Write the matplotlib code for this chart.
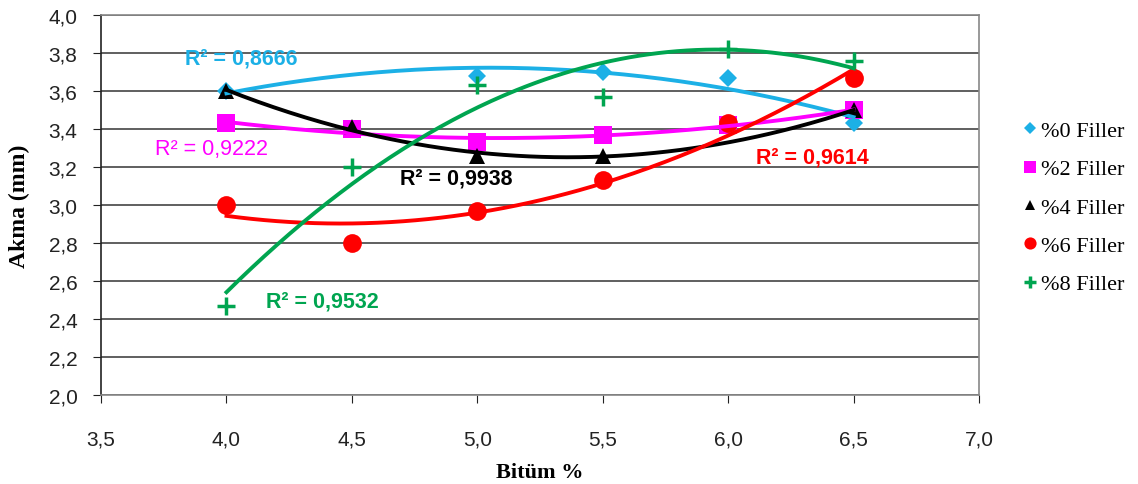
import numpy as np
import matplotlib.pyplot as plt
from matplotlib.ticker import FuncFormatter, MultipleLocator

# Bitum orani (%) ve akma degerleri (mm)
bitum = [4.0, 4.5, 5.0, 5.5, 6.0, 6.5]
bitum_f0 = [4.0, 5.0, 5.5, 6.0, 6.5]
akma_f0 = [3.60, 3.68, 3.70, 3.67, 3.43]
akma_f2 = [3.43, 3.40, 3.33, 3.37, 3.42, 3.50]
bitum_f4 = [4.0, 4.5, 5.0, 5.5, 6.5]
akma_f4 = [3.60, 3.41, 3.26, 3.26, 3.50]
akma_f6 = [3.00, 2.80, 2.97, 3.13, 3.43, 3.67]
akma_f8 = [2.47, 3.20, 3.63, 3.57, 3.82, 3.76]

etiketler = ["%0 Filler", "%2 Filler", "%4 Filler", "%6 Filler", "%8 Filler"]
r2_yazi = ["R² = 0,8666", "R² = 0,9222", "R² = 0,9938", "R² = 0,9614", "R² = 0,9532"]
r2_konum = [(3.834, 3.774), (3.715, 3.295), (4.692, 3.142), (6.112, 3.253), (4.158, 2.495)]

renkler = ["#1CB0E6", "#FF00FF", "#000000", "#FF0000", "#00A550"]
isaretler = ["D", "s", "^", "o", "+"]
boyut = [9, 13, 11, 13.5, 13]
kalin = ["bold", "normal", "bold", "bold", "bold"]

seriler = [(bitum_f0, akma_f0), (bitum, akma_f2), (bitum_f4, akma_f4),
           (bitum, akma_f6), (bitum, akma_f8)]

fig = plt.figure(figsize=(11.38, 4.85), dpi=100)
ax = fig.add_axes([0.0888, 0.1835, 0.7715, 0.7835])

for i, (x, y) in enumerate(seriler):
    ax.plot(x, y, linestyle="none", marker=isaretler[i], color=renkler[i],
            markersize=boyut[i], markeredgewidth=2.5 if isaretler[i] == "+" else 0,
            label=etiketler[i], zorder=3)

# 2. derece polinom egilim cizgileri
for i, (x, y) in enumerate(seriler):
    k = np.polyfit(x, y, 2)
    xx = np.linspace(min(x), max(x), 200)
    ax.plot(xx, np.polyval(k, xx), color=renkler[i], lw=2.8, zorder=4)
    ax.text(r2_konum[i][0], r2_konum[i][1], r2_yazi[i], color=renkler[i],
            fontsize=15.5, fontweight=kalin[i], family="Liberation Sans",
            va="center", zorder=5)

ax.set_xlim(3.5, 7.0)
ax.set_ylim(2.0, 4.0)
ax.xaxis.set_major_locator(MultipleLocator(0.5))
ax.yaxis.set_major_locator(MultipleLocator(0.2))
virgul = FuncFormatter(lambda v, p: f"{v:.1f}".replace(".", ","))
ax.xaxis.set_major_formatter(virgul)
ax.yaxis.set_major_formatter(virgul)
ax.grid(axis="y", color="#444444", lw=1.2)
ax.set_axisbelow(True)
ax.tick_params(direction="out", length=6, labelsize=15, colors="#222222")
for lab in ax.get_xticklabels() + ax.get_yticklabels():
    lab.set_family("Liberation Sans")
ax.tick_params(axis="x", pad=19)
ax.tick_params(axis="y", pad=11)
for s in ["top", "right"]:
    ax.spines[s].set_color("#888888")
ax.spines["bottom"].set_color("#888888")
ax.spines["left"].set_color("#222222")
for s in ax.spines.values():
    s.set_linewidth(1.2)

ax.set_xlabel("Bitüm %", family="Liberation Serif", fontweight="bold", fontsize=16)
ax.set_ylabel("Akma (mm)", family="Liberation Serif", fontweight="bold", fontsize=17)
ax.xaxis.set_label_coords(0.5, -0.175)
ax.yaxis.set_label_coords(-0.081, 0.5)

fig.legend(loc="center left", bbox_to_anchor=(0.88, 0.57), frameon=False,
           prop={"family": "Liberation Serif", "size": 16}, handletextpad=0.1,
           handlelength=0.8, labelspacing=0.8, markerscale=0.65)

fig.savefig("out.png", dpi=100)
